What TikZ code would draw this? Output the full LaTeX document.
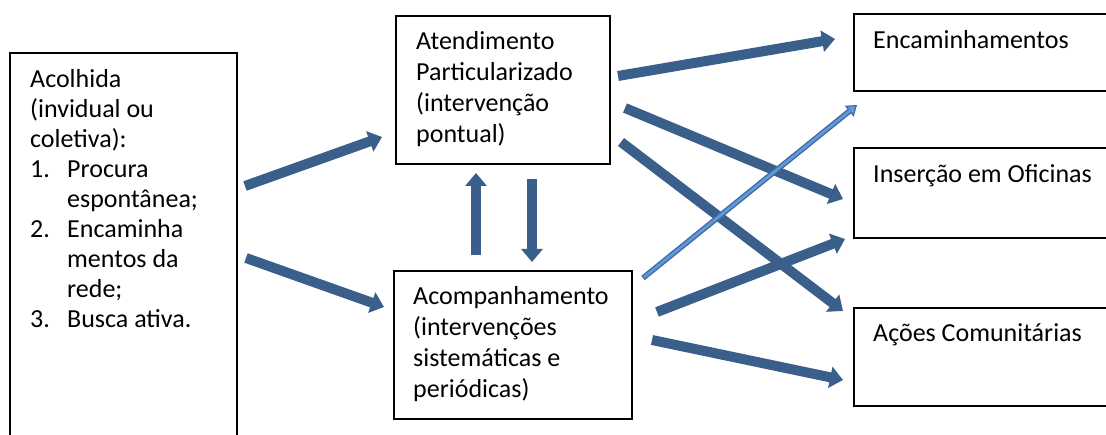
\documentclass[tikz,border=0pt]{standalone}
\usepackage{fontspec}
\setmainfont{Carlito}
\usetikzlibrary{arrows.meta,calc}
\definecolor{arrblue}{RGB}{58,95,139}
\definecolor{thindark}{RGB}{62,108,165}
\definecolor{thinlight}{RGB}{100,152,214}
\begin{document}
\begin{tikzpicture}[x=1pt,y=-1pt,
  box/.style={draw=black,line width=1.8pt,inner sep=0pt,anchor=north west},
  txt/.style={inner sep=0pt,anchor=base west,align=left,font=\fontsize{26pt}{30pt}\selectfont},
  txtb/.style={txt,font=\fontsize{26pt}{31pt}\selectfont},
  fat/.style={draw=arrblue,line width=10pt,-{Triangle[width=21pt,length=13pt]}},
  thinout/.style={draw=thindark,line width=5.5pt,-{Triangle[width=14pt,length=10pt,fill=thinlight,line width=1.2pt]}},
  thinin/.style={draw=thinlight,line width=2.6pt,shorten >=9pt,shorten <=1.2pt}]
\clip (0,0) rectangle (1106,435);
\fill[white] (0,0) rectangle (1106,435);
% boxes
\node[box,minimum width=227pt,minimum height=400pt] (acol) at (9,52) {};
\node[box,minimum width=214pt,minimum height=148pt] (aten) at (395,15) {};
\node[box,minimum width=238pt,minimum height=148pt] (acomp) at (393,270) {};
\node[box,minimum width=260pt,minimum height=77pt] (enc) at (853,13) {};
\node[box,minimum width=260pt,minimum height=90pt] (ins) at (853,147) {};
\node[box,minimum width=260pt,minimum height=98pt] (acoes) at (853,307) {};
% texts (anchored at the baseline of their last line)
\node[txt] (acolT) at ($(acol.north west)+(21,276)$) {Acolhida\\(invidual ou\\coletiva):\\\makebox[37pt][l]{1.}Procura\\\hspace*{37pt}espontânea;\\\makebox[37pt][l]{2.}Encaminha\\\hspace*{37pt}mentos da\\\hspace*{37pt}rede;\\\makebox[37pt][l]{3.}Busca ativa.};
\node[txtb] (atenT) at ($(aten.north west)+(21,128)$) {Atendimento\\Particularizado\\(intervenção\\pontual)};
\node[txtb] (acompT) at ($(acomp.north west)+(20,128)$) {Acompanhamento\\(intervenções\\sistemáticas e\\periódicas)};
\node[txt] (encT) at ($(enc.north west)+(20,36)$) {Encaminhamentos};
\node[txt] (insT) at ($(ins.north west)+(20,36)$) {Inserção em Oficinas};
\node[txt] (acoesT) at ($(acoes.north west)+(20,35)$) {Ações Comunitárias};
% arrow ends
\coordinate (a1s) at (245,186); \coordinate (a1e) at (382,137);
\coordinate (a2s) at (246,258); \coordinate (a2e) at (384,307);
\coordinate (a3s) at (476,255); \coordinate (a3e) at (476,173);
\coordinate (a4s) at (532,179); \coordinate (a4e) at (532,262);
\coordinate (a5s) at (618,76);  \coordinate (a5e) at (835,39);
\coordinate (a6s) at (625,108); \coordinate (a6e) at (843,199);
\coordinate (a7s) at (621,142); \coordinate (a7e) at (843,311);
\coordinate (a8s) at (657,312); \coordinate (a8e) at (845,239);
\coordinate (a9s) at (652,340); \coordinate (a9e) at (843,380);
\coordinate (t1s) at (643,278); \coordinate (t1e) at (857,105);
% arrows
\draw[fat] (a1s) -- (a1e);
\draw[fat] (a2s) -- (a2e);
\draw[fat] (a3s) -- (a3e);
\draw[fat] (a4s) -- (a4e);
\draw[fat] (a5s) -- (a5e);
\draw[fat] (a6s) -- (a6e);
\draw[fat] (a7s) -- (a7e);
\draw[thinout] (t1s) -- (t1e);
\draw[thinin] (t1s) -- (t1e);
\draw[fat] (a8s) -- (a8e);
\draw[fat] (a9s) -- (a9e);
\end{tikzpicture}
\end{document}
